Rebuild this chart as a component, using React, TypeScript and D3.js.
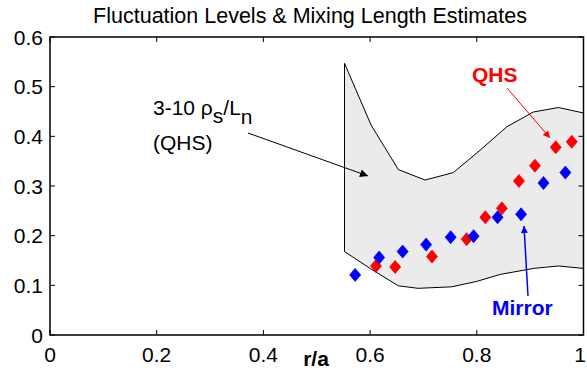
import React from "react";
import * as d3 from "d3";

const W = 587;
const H = 391;

const xTicks = [0, 0.2, 0.4, 0.6, 0.8, 1];
const xTickLabels = ["0", "0.2", "0.4", "0.6", "0.8", "1"];
const yTicks = [0, 0.1, 0.2, 0.3, 0.4, 0.5, 0.6];
const yTickLabels = ["0", "0.1", "0.2", "0.3", "0.4", "0.5", "0.6"];

// band upper curve (10 rho_s/L_n) and lower curve (3 rho_s/L_n)
const upperX = [0.552, 0.602, 0.653, 0.703, 0.756, 0.806, 0.856, 0.906, 0.953, 1.0];
const upperY = [0.547, 0.4225, 0.333, 0.312, 0.327, 0.372, 0.419, 0.449, 0.458, 0.447];
const lowerX = [0.552, 0.6, 0.653, 0.69, 0.753, 0.8, 0.844, 0.906, 0.953, 1.0];
const lowerY = [0.168, 0.134, 0.099, 0.094, 0.097, 0.108, 0.122, 0.134, 0.139, 0.134];

// QHS (red)
const qhsX = [0.611, 0.647, 0.716, 0.781, 0.816, 0.847, 0.879, 0.909, 0.948, 0.978];
const qhsY = [0.139, 0.137, 0.158, 0.193, 0.237, 0.255, 0.31, 0.341, 0.378, 0.389];
// Mirror (blue)
const mirX = [0.572, 0.617, 0.661, 0.705, 0.751, 0.794, 0.839, 0.883, 0.925, 0.966];
const mirY = [0.121, 0.156, 0.168, 0.182, 0.197, 0.199, 0.237, 0.243, 0.306, 0.327];

const left = 50, right = 583.5, top = 37, bottom = 335;

export default function App() {
  const x = d3.scaleLinear().domain([0, 1]).range([left, right]);
  const y = d3.scaleLinear().domain([0, 0.6]).range([bottom, top]);

  const upper = upperX.map((v, i) => [v, upperY[i]] as [number, number]);
  const lower = lowerX.map((v, i) => [v, lowerY[i]] as [number, number]);
  const line = d3.line<[number, number]>().x(d => x(d[0])).y(d => y(d[1]));
  const bandPts = [...upper, ...lower.slice().reverse()];
  const bandPath = line(bandPts) + "Z";
  const outline = line([...upper.slice().reverse(), ...lower]);

  const diamond = (cx: number, cy: number) =>
    `M${cx},${cy - 6.5}L${cx + 5.5},${cy}L${cx},${cy + 6.5}L${cx - 5.5},${cy}Z`;

  const font = "Arial, 'Liberation Sans', sans-serif";

  return (
    <svg width={W} height={H} style={{ position: "absolute", left: 0, top: 0, background: "#fff" }}
      fontFamily={font}>
      <defs>
        <marker id="ahB" viewBox="0 0 10 10" refX="10" refY="5" markerWidth="13" markerHeight="8" markerUnits="userSpaceOnUse" orient="auto">
          <path d="M0,0L10,5L0,10Z" fill="#000" />
        </marker>
        <marker id="ahR" viewBox="0 0 10 10" refX="10" refY="5" markerWidth="11" markerHeight="7" markerUnits="userSpaceOnUse" orient="auto">
          <path d="M0,0L10,5L0,10Z" fill="#ff0000" />
        </marker>
        <marker id="ahU" viewBox="0 0 10 10" refX="10" refY="5" markerWidth="12" markerHeight="7" markerUnits="userSpaceOnUse" orient="auto">
          <path d="M0,0L10,5L0,10Z" fill="#0000ff" />
        </marker>
      </defs>
      <rect x={0} y={0} width={W} height={H} fill="#fff" />
      <text x={310} y={23} textAnchor="middle" fontSize={21.5} fill="#000">
        Fluctuation Levels &amp; Mixing Length Estimates
      </text>

      <path d={bandPath} fill="#ebebeb" stroke="none" />
      <path d={outline ?? ""} fill="none" stroke="#000" strokeWidth={1} />

      {/* axes box */}
      <rect x={left} y={top} width={right - left} height={bottom - top} fill="none" stroke="#000" strokeWidth={1.5} />
      {xTicks.map((t, i) => (
        <g key={"x" + i}>
          <line x1={x(t)} x2={x(t)} y1={bottom} y2={bottom - 5} stroke="#000" />
          <line x1={x(t)} x2={x(t)} y1={top} y2={top + 5} stroke="#000" />
          <text x={Math.min(x(t), 580)} y={362} textAnchor="middle" fontSize={21} fill="#000">{xTickLabels[i]}</text>
        </g>
      ))}
      {yTicks.map((t, i) => (
        <g key={"y" + i}>
          <line x1={left} x2={left + 5} y1={y(t)} y2={y(t)} stroke="#000" />
          <line x1={right} x2={right - 5} y1={y(t)} y2={y(t)} stroke="#000" />
          <text x={43} y={y(t) + 7.5} textAnchor="end" fontSize={21} fill="#000">{yTickLabels[i]}</text>
        </g>
      ))}
      <text x={316} y={366} textAnchor="middle" fontSize={21} fontWeight="bold" fill="#000">r/a</text>

      {/* markers */}
      {qhsX.map((v, i) => (
        <path key={"q" + i} d={diamond(x(v), y(qhsY[i]))} fill="#ff0000" stroke="#ff0000" strokeWidth={0.8} />
      ))}
      {mirX.map((v, i) => (
        <path key={"m" + i} d={diamond(x(v), y(mirY[i]))} fill="#0000ff" stroke="#0000ff" strokeWidth={0.8} />
      ))}

      {/* annotations */}
      <text x={153} y={115} fontSize={21} fill="#000">
        3-10 ρ<tspan dy={8}>s</tspan><tspan dy={-8}>/L</tspan><tspan dy={9}>n</tspan>
      </text>
      <text x={153} y={150} fontSize={21} fill="#000">(QHS)</text>
      <line x1={248} y1={133} x2={368} y2={176} stroke="#000" strokeWidth={1} markerEnd="url(#ahB)" />

      <text x={472} y={82} fontSize={21} fontWeight="bold" fill="#ff0000">QHS</text>
      <line x1={507} y1={88} x2={550} y2={138} stroke="#ff0000" strokeWidth={1} markerEnd="url(#ahR)" />

      <text x={492} y={315} fontSize={21} fontWeight="bold" fill="#0000ff">Mirror</text>
      <line x1={528} y1={296} x2={524} y2={226} stroke="#0000ff" strokeWidth={1.5} markerEnd="url(#ahU)" />
    </svg>
  );
}
